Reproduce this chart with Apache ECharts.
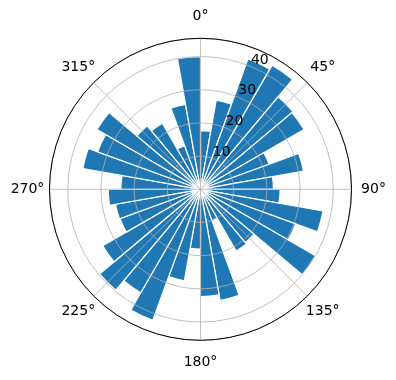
<!DOCTYPE html>
<html><head><meta charset="utf-8">
<script src="https://cdn.jsdelivr.net/npm/echarts@6/dist/echarts.min.js"></script>
<style>html,body{margin:0;padding:0;background:#fff}#c{width:396px;height:380px}</style>
</head><body><div id="c"></div>
<script>
// 36 direction bins (degrees, clockwise from north)
const binLabels = ['0','10','20','30','40','50','60','70','80','90','100','110','120','130','140','150','160','170',
                   '180','190','200','210','220','230','240','250','260','270','280','290','300','310','320','330','340','350'];
const radii = [17.7, 27.3, 41.8, 43.2, 36.4, 36.0, 22.0, 31.5, 22.0,
               24.0, 37.5, 30.5, 40.0, 21.0, 21.5, 10.0, 34.0, 32.3,
               18.0, 28.0, 42.0, 36.0, 39.7, 34.0, 25.8, 26.0, 27.8,
               24.0, 36.0, 33.0, 36.0, 25.0, 23.0, 14.0, 26.0, 40.0];
const thetaTicks = [0, 45, 90, 135, 180, 225, 270, 315];
const thetaTickLabels = ['0°', '45°', '90°', '135°', '180°', '225°', '270°', '315°'];
const rTicks = [10, 20, 30, 40];
const rTickLabels = ['10', '20', '30', '40'];
const rMax = 45.5;
const rStep = 10;

const CX = 200.5, CY = 189.3, R = 151;
const FONT = 'DejaVu Sans';
const pads = [[0,0,17,0],[0,0,9.9,4.5],[0,0,0,11.6],[9.9,0,0,0],[17,0,0,0],[9.9,0,0,0],[0,7.15,0,0],[0,0,9.9,0]];
const rich = {};
pads.forEach((p, i) => { rich['p' + i] = {padding: p, fontSize: 14, fontFamily: FONT, color: '#000'}; });
const rRich = {r: {padding: [0, 0, 27.7, 0], fontSize: 14, fontFamily: FONT, color: '#000'}};

const chart = echarts.init(document.getElementById('c'), null, {renderer: 'canvas'});
chart.setOption({
  backgroundColor: '#fff',
  animation: false,
  polar: [
    {center: [CX, CY], radius: R},
    {center: [CX, CY], radius: R},
    {center: [CX, CY], radius: R}
  ],
  angleAxis: [
    {polarIndex: 0, type: 'category', data: binLabels, startAngle: 90, clockwise: true, boundaryGap: true,
     axisLine: {show: false}, axisTick: {show: false}, axisLabel: {show: false}, splitLine: {show: false}},
    {polarIndex: 1, type: 'value', min: 0, max: 360, interval: 45, startAngle: 90, clockwise: true, z: 10,
     axisLine: {show: true, lineStyle: {color: '#000', width: 1}},
     axisTick: {show: false},
     splitLine: {show: true, lineStyle: {color: '#b0b0b0', width: 0.8}},
     axisLabel: {show: true, margin: -2, fontSize: 14, fontFamily: FONT, color: '#000', rich: rich,
       formatter: v => { const i = thetaTicks.indexOf(v); return (i < 0 || v >= 360) ? '' : '{p' + i + '|' + thetaTickLabels[i] + '}'; }}},
    {polarIndex: 2, type: 'value', min: 0, max: 360, startAngle: 67.5, clockwise: true, show: false}
  ],
  radiusAxis: [
    {polarIndex: 0, type: 'value', min: 0, max: rMax, show: false},
    {polarIndex: 1, type: 'value', min: 0, max: rMax, interval: rStep, z: 10,
     axisLine: {show: false}, axisTick: {show: false}, axisLabel: {show: false},
     splitLine: {show: true, lineStyle: {color: '#b0b0b0', width: 0.8}}},
    {polarIndex: 2, type: 'value', min: 0, max: rMax, interval: rStep, z: 11,
     axisLine: {show: false}, axisTick: {show: false}, splitLine: {show: false},
     axisLabel: {show: true, fontSize: 14, fontFamily: FONT, color: '#000', margin: -18.9, rich: rRich,
       formatter: v => { const i = rTicks.indexOf(v); return i < 0 ? '' : '{r|' + rTickLabels[i] + '}'; }}}
  ],
  series: [{
    type: 'bar', coordinateSystem: 'polar', polarIndex: 0, data: radii,
    barCategoryGap: '0%',
    itemStyle: {color: '#1f77b4', borderColor: '#ffffff', borderWidth: 1.2}
  }]
});
</script></body></html>
